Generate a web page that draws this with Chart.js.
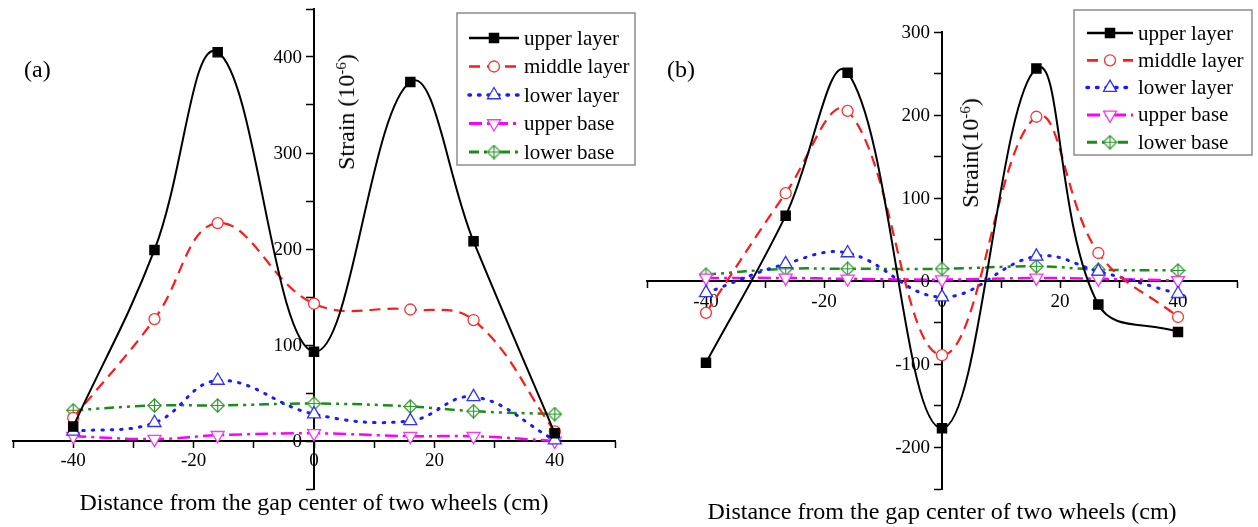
<!DOCTYPE html>
<html>
<head>
<meta charset="utf-8">
<title>Strain distribution</title>
<script src="https://cdn.jsdelivr.net/npm/chart.js@4.4.1/dist/chart.umd.min.js"></script>
<style>
  body { margin: 0; background: #fff; width: 1258px; height: 527px; overflow: hidden; position: relative;
         font-family: 'Liberation Serif', 'Times New Roman', serif; color: #000; }
  canvas { position: absolute; top: 0; }
  #chartA { left: 0; }
  #chartB { left: 630px; }
  .tag { position: absolute; font-size: 24px; line-height: 1; }
  .xtitle { position: absolute; font-size: 24px; line-height: 1; white-space: nowrap; transform: translateX(-50%); }
  .ytitle { position: absolute; font-size: 24px; line-height: 1; white-space: nowrap;
            transform: translate(-50%, -50%) rotate(-90deg); }
  .ytitle sup { font-size: 0.62em; vertical-align: 0.55em; line-height: 0; }
</style>
</head>
<body>
<canvas id="chartA" width="645" height="527"></canvas>
<canvas id="chartB" width="628" height="527"></canvas>

<div class="tag" style="left:24px; top:57px;">(a)</div>
<div class="tag" style="left:667px; top:57px;">(b)</div>
<div class="xtitle" style="left:314px; top:490px;">Distance from the gap center of two wheels (cm)</div>
<div class="xtitle" style="left:942px; top:499px;">Distance from the gap center of two wheels (cm)</div>
<div class="ytitle" style="left:346px; top:112px;">Strain (10<sup>-6</sup>)</div>
<div class="ytitle" style="left:970px; top:153px;">Strain(10<sup>-6</sup>)</div>

<script>
// measuring positions (cm from the gap centre)
const positions = [-40, -26.5, -16, 0, 16, 26.5, 40];
const seriesNames = ['upper layer', 'middle layer', 'lower layer', 'upper base', 'lower base'];

// (a) strain, 10^-6
const upperLayerA  = [15, 199, 405, 93, 374, 208, 8];
const middleLayerA = [24, 127, 227, 143, 137, 126, 10];
const lowerLayerA  = [10, 19, 63, 28, 21, 46, 1];
const upperBaseA   = [5, 2, 6, 8, 5, 5, 0];
const lowerBaseA   = [32, 37, 37, 39, 36, 31, 28];

// (b) strain, 10^-6
const upperLayerB  = [-98, 79, 251, -177, 256, -28, -61];
const middleLayerB = [-38, 106, 205, -89, 198, 34, -43];
const lowerLayerB  = [-14, 21, 34, -19, 30, 12, -15];
const upperBaseB   = [4, 4, 3, 2, 4, 3, 1];
const lowerBaseB   = [8, 15, 15, 15, 18, 14, 13];

const xTickLabels = [-40, -20, 0, 20, 40];
const yTickLabelsA = [0, 100, 200, 300, 400];
const yTickLabelsB = [-200, -100, 0, 100, 200, 300];

const FONT = "'Liberation Serif', 'Times New Roman', serif";

// diamond with a plus inside, used for the base series
function diamondPlus(color, size) {
    var c = document.createElement('canvas');
    c.width = size; c.height = size;
    var g = c.getContext('2d');
    var h = size / 2;
    g.strokeStyle = color;
    g.lineWidth = 1.2;
    g.fillStyle = '#fff';
    g.beginPath();
    g.moveTo(h, 0.8); g.lineTo(size - 0.8, h); g.lineTo(h, size - 0.8); g.lineTo(0.8, h);
    g.closePath();
    g.fill(); g.stroke();
    g.beginPath();
    g.moveTo(h, 0.8); g.lineTo(h, size - 0.8);
    g.moveTo(0.8, h); g.lineTo(size - 0.8, h);
    g.stroke();
    return c;
}

const styles = [
    { color: '#000000', dash: [], width: 2, cap: 'butt', point: 'rect', radius: 6.5, fill: '#000000', rot: 0 },
    { color: '#ff1a1a', dash: [11, 7], width: 2.2, cap: 'butt', point: 'circle', radius: 5.5, fill: '#ffffff', rot: 0 },
    { color: '#1a1aff', dash: [1.5, 8], width: 3, cap: 'round', point: 'triangle', radius: 7.5, fill: '#ffffff', rot: 0 },
    { color: '#ff00ff', dash: [13, 5, 3, 5], width: 2.5, cap: 'butt', point: 'triangle', radius: 7.5, fill: '#ffffff', rot: 180 },
    { color: '#1a8c1a', dash: [10, 5, 3, 5, 3, 5], width: 2.5, cap: 'butt', point: diamondPlus('#2a9a2a', 15), radius: 7, fill: '#ffffff', rot: 0 }
];
const markerColors = ['#000000', '#ff3030', '#3030ff', '#ff33ff', '#2a9a2a'];

function makeDatasets(seriesList) {
    return seriesList.map(function (values, i) {
        var s = styles[i];
        return {
            label: seriesNames[i],
            data: positions.map(function (x, k) { return { x: x, y: values[k] }; }),
            borderColor: s.color,
            borderWidth: s.width,
            borderDash: s.dash,
            borderCapStyle: s.cap,
            tension: 0.4,
            fill: false,
            pointStyle: s.point,
            pointRotation: s.rot,
            pointRadius: s.radius,
            pointBackgroundColor: s.fill,
            pointBorderColor: markerColors[i],
            pointBorderWidth: 1.3
        };
    });
}

// boxed legend and the value labels of the vertical axis
const panelDecor = {
    id: 'panelDecor',
    afterDraw: function (chart, args, opts) {
        var ctx = chart.ctx;
        var yScale = chart.scales.y;
        var xScale = chart.scales.x;
        var axisX = xScale.getPixelForValue(0);
        ctx.save();

        ctx.font = '19px ' + FONT;
        ctx.fillStyle = '#000';
        ctx.textAlign = 'right';
        ctx.textBaseline = 'middle';
        opts.yLabels.forEach(function (v) {
            ctx.fillText(String(v), axisX - 12, yScale.getPixelForValue(v) + 1);
        });

        var lg = opts.legend;
        ctx.strokeStyle = '#8c8c8c';
        ctx.lineWidth = 1.5;
        ctx.strokeRect(lg.left, lg.top, lg.width, lg.height);
        ctx.font = '21px ' + FONT;
        ctx.textAlign = 'left';
        chart.data.datasets.forEach(function (ds, i) {
            var y = lg.top + lg.first + i * lg.row;
            var x0 = lg.left + lg.lineX;
            ctx.strokeStyle = ds.borderColor;
            ctx.lineWidth = ds.borderWidth + 0.5;
            ctx.lineCap = ds.borderCapStyle;
            ctx.setLineDash(ds.borderDash);
            ctx.beginPath();
            ctx.moveTo(x0, y);
            ctx.lineTo(x0 + lg.lineW, y);
            ctx.stroke();
            ctx.setLineDash([]);
            ctx.lineCap = 'butt';
            ctx.fillStyle = ds.pointBackgroundColor;
            ctx.strokeStyle = ds.pointBorderColor;
            ctx.lineWidth = ds.pointBorderWidth;
            Chart.helpers.drawPoint(ctx, {
                pointStyle: ds.pointStyle, rotation: ds.pointRotation,
                radius: ds.pointRadius, borderWidth: ds.pointBorderWidth
            }, x0 + lg.lineW / 2, y);
            ctx.fillStyle = '#000';
            ctx.fillText(ds.label, x0 + lg.lineW + 5, y + 1);
        });
        ctx.restore();
    }
};

function makeChart(id, seriesList, yMin, yMax, yLabels, padding, legend) {
    return new Chart(document.getElementById(id), {
        type: 'line',
        data: { datasets: makeDatasets(seriesList) },
        plugins: [panelDecor],
        options: {
            responsive: false,
            animation: false,
            layout: { padding: padding },
            plugins: {
                legend: { display: false },
                tooltip: { enabled: false },
                panelDecor: { yLabels: yLabels, legend: legend }
            },
            scales: {
                x: {
                    type: 'linear', min: -50, max: 50,
                    position: { y: 0 },
                    ticks: {
                        stepSize: 10, autoSkip: false, maxRotation: 0, padding: 3,
                        color: '#000', font: { family: FONT, size: 19 },
                        callback: function (v) { return xTickLabels.indexOf(v) >= 0 ? String(v) : ''; }
                    },
                    grid: { drawOnChartArea: false, tickLength: 6, tickWidth: 1.5, tickColor: '#000' },
                    border: { display: true, color: '#000', width: 2 }
                },
                y: {
                    type: 'linear', min: yMin, max: yMax,
                    position: { x: 0 },
                    ticks: { stepSize: 50, display: false },
                    grid: { drawOnChartArea: false, tickLength: 7, tickWidth: 1.5, tickColor: '#000' },
                    border: { display: true, color: '#000', width: 2 }
                }
            }
        }
    });
}

makeChart('chartA',
    [upperLayerA, middleLayerA, lowerLayerA, upperBaseA, lowerBaseA],
    -50, 450, yTickLabelsA,
    { left: 13, right: 30, top: 9, bottom: 38 },
    { left: 457, top: 13, width: 178, height: 152, first: 25, row: 28.5, lineX: 12, lineW: 50 });

makeChart('chartB',
    [upperLayerB, middleLayerB, lowerLayerB, upperBaseB, lowerBaseB],
    -250, 300, yTickLabelsB,
    { left: 17, right: 21, top: 32, bottom: 38 },
    { left: 444, top: 10, width: 178, height: 145, first: 23, row: 27.3, lineX: 13, lineW: 46 });
</script>
</body>
</html>
